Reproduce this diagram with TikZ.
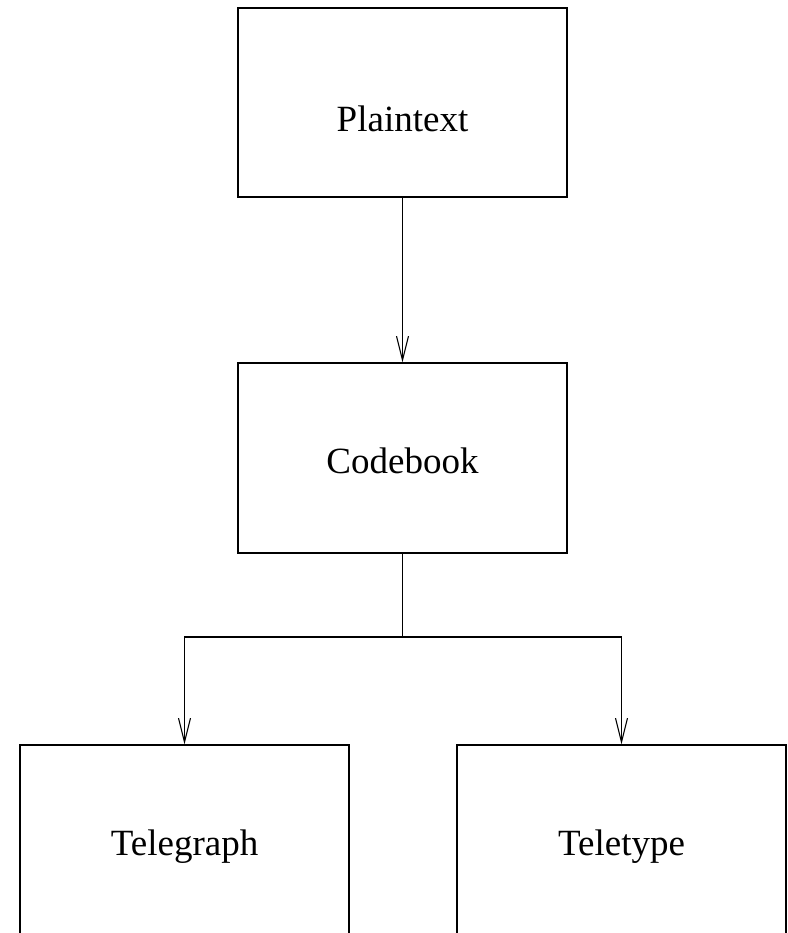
\documentclass[tikz,border=0pt]{standalone}
\usepackage{fontspec}
\setmainfont{Liberation Serif}
\usetikzlibrary{arrows.meta}
\begin{document}
\begin{tikzpicture}[x=1pt,y=-1pt,
  box/.style={draw, line width=1.2pt, rectangle, inner sep=0pt, minimum width=329pt},
  lbl/.style={anchor=base, inner sep=0pt, font=\fontsize{37}{44}\selectfont},
  conn/.style={line width=1.1pt},
  arr/.style={conn, -{Straight Barb[length=24pt,width=12pt,line width=1.1pt]}}]
\useasboundingbox (0,0) rectangle (787,933);
\clip (0,0) rectangle (787,933);
\node[box, minimum height=189pt] (p) at (402.5,102.5) {};
\node[box, minimum height=190pt] (c) at (402.5,458) {};
\node[box, minimum height=190pt] (tg) at (184.5,840) {};
\node[box, minimum height=190pt] (tt) at (621.5,840) {};
\node[lbl] (pl) at (402.5,132) {Plaintext};
\node[lbl] (cl) at (402.5,473) {Codebook};
\node[lbl] (tgl) at (184.5,855) {Telegraph};
\node[lbl] (ttl) at (621.5,855) {Teletype};
\coordinate (j) at (402.5,637);
\draw[arr] (p.south) -- (c.north);
\draw[conn] (c.south) -- (j);
\draw[arr] (j) -| (tg.north);
\draw[arr] (j) -| (tt.north);
\end{tikzpicture}
\end{document}
